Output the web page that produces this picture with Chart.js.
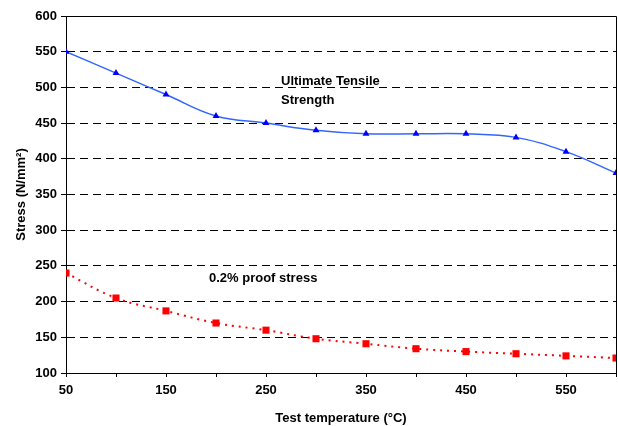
<!DOCTYPE html>
<html><head><meta charset="utf-8">
<script src="https://cdn.jsdelivr.net/npm/chart.js@4/dist/chart.umd.min.js"></script>
<style>html,body{margin:0;padding:0;background:#fff}#wrap{width:618px;height:426px}</style>
</head><body><div id="wrap"><canvas id="c" width="618" height="426"></canvas></div>
<script>
const temperatures = [50,100,150,200,250,300,350,400,450,500,550,600];
const utsValues = [550,520,490,460,450,440,435,435,435,430,410,380];
const proofValues = [240,205,187,170,160,148,141,134,130,127,124,121];
const xTickLabels = [50,150,250,350,450,550];
const yTicks = [100,150,200,250,300,350,400,450,500,550,600];
const notes = [
  {text:'Ultimate Tensile', x:265, y:509},
  {text:'Strength', x:265, y:482},
  {text:'0.2% proof stress', x:193, y:233}
];
const FONT = '"Liberation Sans", Arial, sans-serif';

const notePlugin = {
  id:'notes',
  afterDatasetsDraw(chart){
    const ctx = chart.ctx, xs = chart.scales.x, ys = chart.scales.y;
    ctx.save();
    ctx.font = 'bold 13px ' + FONT;
    ctx.fillStyle = '#000';
    ctx.textAlign = 'left';
    ctx.textBaseline = 'middle';
    notes.forEach(n => ctx.fillText(n.text, xs.getPixelForValue(n.x), ys.getPixelForValue(n.y)));
    const a = chart.chartArea;
    ctx.strokeStyle = '#000'; ctx.lineWidth = 1;
    ctx.beginPath();
    ctx.moveTo(a.left, a.top + 0.5); ctx.lineTo(a.right + 0.5, a.top + 0.5); ctx.lineTo(a.right + 0.5, a.bottom);
    ctx.stroke();
    ctx.restore();
  }
};

new Chart(document.getElementById('c'), {
  type:'line',
  data:{
    datasets:[
      {label:'UTS', data: temperatures.map((t,i)=>({x:t,y:utsValues[i]})),
       borderColor:'#3366ff', borderWidth:1.5, tension:0.4,
       pointStyle:'triangle', pointRadius:4, pointBackgroundColor:'#0000ff', pointBorderColor:'#0000ff', pointBorderWidth:0},
      {label:'Proof', data: temperatures.map((t,i)=>({x:t,y:proofValues[i]})),
       borderColor:'#ff0000', borderWidth:2, borderDash:[2,5], tension:0.4,
       pointStyle:'rect', pointRadius:5, pointBackgroundColor:'#ff0000', pointBorderColor:'#ff0000', pointBorderWidth:0}
    ]
  },
  options:{
    responsive:false, animation:false, devicePixelRatio:1,
    layout:{autoPadding:false, padding:{top:16, right:2, left:0, bottom:0}},
    plugins:{legend:{display:false}, tooltip:{enabled:false}},
    scales:{
      x:{type:'linear', min:50, max:600,
        afterBuildTicks(s){ s.ticks = temperatures.map(v=>({value:v})); },
        afterFit(s){ s.height = 53; s.paddingRight = 0; s.paddingLeft = 0; },
        ticks:{autoSkip:false, maxRotation:0, color:'#000', font:{family:FONT, size:13, weight:'bold'}, padding:6,
          callback(v){ return xTickLabels.includes(v) ? String(v) : ''; }},
        grid:{display:true, drawOnChartArea:false, drawTicks:true, tickLength:4, color:'#000', tickColor:'#000'},
        border:{display:true, color:'#000', width:1},
        title:{display:true, text:'Test temperature (°C)', color:'#000', font:{family:FONT, size:13, weight:'bold'}, padding:{top:4, bottom:0}}
      },
      y:{type:'linear', min:100, max:600,
        afterBuildTicks(s){ s.ticks = yTicks.map(v=>({value:v})); },
        afterFit(s){ s.width = 66; },
        ticks:{color:'#000', font:{family:FONT, size:13, weight:'bold'}, padding:4},
        grid:{color:'#000', tickBorderDash:[], tickLength:5, tickColor:'#000', lineWidth:1},
        border:{display:true, color:'#000', width:1, dash:[8,5]},
        title:{display:true, text:'Stress (N/mm²)', color:'#000', font:{family:FONT, size:13, weight:'bold'}, padding:{top:14, bottom:2}}
      }
    }
  },
  plugins:[notePlugin]
});
</script></body></html>
